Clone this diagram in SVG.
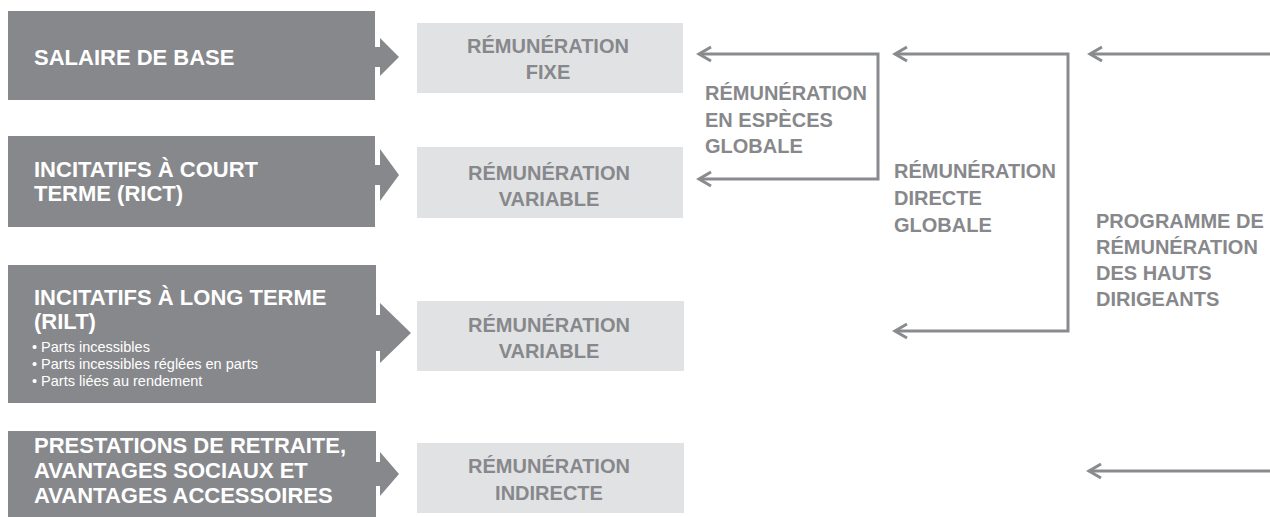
<svg xmlns="http://www.w3.org/2000/svg" width="1270" height="517" viewBox="0 0 1270 517">
<style>
.dark{fill:#87888c}
.light{fill:#e1e2e4}
.wt{font-family:"Liberation Sans",Arial,sans-serif;font-weight:bold;font-size:22px;fill:#ffffff}
.bl{font-family:"Liberation Sans",Arial,sans-serif;font-size:14.5px;fill:#ffffff}
.gt{font-family:"Liberation Sans",Arial,sans-serif;font-weight:bold;font-size:20px;fill:#87888b}
.ct{text-anchor:middle}
.conn{fill:none;stroke:#8a8b8e;stroke-width:3}
</style>
<defs>
<marker id="chev" markerUnits="userSpaceOnUse" markerWidth="30" markerHeight="30" refX="0" refY="0" viewBox="-15 -15 30 30" orient="auto-start-reverse" overflow="visible">
<path d="M-12,-7 L0,0 L-12,7" fill="none" stroke="#8a8b8e" stroke-width="3"/>
</marker>
</defs>
<rect width="1270" height="517" fill="#ffffff"/>

<g id="salaire">
<rect class="dark" x="8" y="11" width="367" height="89"/>
<path class="dark" d="M374,47 H380 V38 L399,57 L380,76 V67 H374 Z"/>
<text class="wt" x="34" y="65">SALAIRE DE BASE</text>
</g>

<g id="rict">
<rect class="dark" x="8" y="136" width="367" height="91"/>
<path class="dark" d="M374,165 H380 V149 L399,175 L380,201 V185 H374 Z"/>
<text class="wt" x="34" y="177">INCITATIFS À COURT</text>
<text class="wt" x="34" y="201">TERME (RICT)</text>
</g>

<g id="rilt">
<rect class="dark" x="8" y="265" width="368" height="138"/>
<path class="dark" d="M375,315 H380 V303 L411,333 L380,363 V351 H375 Z"/>
<text class="wt" x="34" y="305">INCITATIFS À LONG TERME</text>
<text class="wt" x="34" y="329">(RILT)</text>
<text class="bl" x="32" y="352">• Parts incessibles</text>
<text class="bl" x="32" y="369">• Parts incessibles réglées en parts</text>
<text class="bl" x="32" y="386">• Parts liées au rendement</text>
</g>

<g id="retraite">
<rect class="dark" x="8" y="431" width="368" height="90"/>
<path class="dark" d="M375,462 H380 V452 L399,474 L380,496 V486 H375 Z"/>
<text class="wt" x="34" y="453">PRESTATIONS DE RETRAITE,</text>
<text class="wt" x="34" y="478">AVANTAGES SOCIAUX ET</text>
<text class="wt" x="34" y="503">AVANTAGES ACCESSOIRES</text>
</g>

<g id="fixe">
<rect class="light" x="417" y="23" width="266" height="70"/>
<text class="gt ct" x="548" y="53">RÉMUNÉRATION</text>
<text class="gt ct" x="548" y="79">FIXE</text>
</g>

<g id="variable1">
<rect class="light" x="417" y="147" width="266" height="71"/>
<text class="gt ct" x="549" y="180">RÉMUNÉRATION</text>
<text class="gt ct" x="549" y="206">VARIABLE</text>
</g>

<g id="variable2">
<rect class="light" x="417" y="301" width="267" height="70"/>
<text class="gt ct" x="549" y="332">RÉMUNÉRATION</text>
<text class="gt ct" x="549" y="358">VARIABLE</text>
</g>

<g id="indirecte">
<rect class="light" x="417" y="443" width="267" height="70"/>
<text class="gt ct" x="549" y="473">RÉMUNÉRATION</text>
<text class="gt ct" x="549" y="500">INDIRECTE</text>
</g>

<g id="especes">
<text class="gt" x="705" y="100">RÉMUNÉRATION</text>
<text class="gt" x="705" y="127">EN ESPÈCES</text>
<text class="gt" x="705" y="153">GLOBALE</text>
</g>

<g id="directe">
<text class="gt" x="894" y="178">RÉMUNÉRATION</text>
<text class="gt" x="894" y="205">DIRECTE</text>
<text class="gt" x="894" y="232">GLOBALE</text>
</g>

<g id="programme">
<text class="gt" x="1096" y="228">PROGRAMME DE</text>
<text class="gt" x="1096" y="254">RÉMUNÉRATION</text>
<text class="gt" x="1096" y="280">DES HAUTS</text>
<text class="gt" x="1096" y="306">DIRIGEANTS</text>
</g>

<g id="connectors">
<path class="conn" d="M699,54 H878 V179 H699" marker-start="url(#chev)" marker-end="url(#chev)"/>
<path class="conn" d="M895,54 H1068 V331 H895" marker-start="url(#chev)" marker-end="url(#chev)"/>
<path class="conn" d="M1270,54 H1090" marker-end="url(#chev)"/>
<path class="conn" d="M1270,471 H1089" marker-end="url(#chev)"/>
</g>
</svg>
